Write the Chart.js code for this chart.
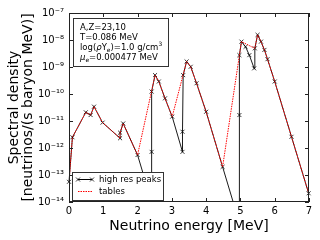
<!DOCTYPE html>
<html><head><meta charset="utf-8">
<script src="https://cdn.jsdelivr.net/npm/chart.js@4/dist/chart.umd.min.js"></script>
<style>html,body{margin:0;padding:0;background:#fff}#c{display:block}</style>
</head><body>
<canvas id="c" width="320" height="240"></canvas>
<script>
// ---- data ----
const peaksEnergy  = [0.00, 0.10, 0.49, 0.63, 0.73, 0.98, 1.49, 1.49, 1.58, 2.00, 2.41, 2.41, 2.41, 2.51, 2.62, 2.80, 3.01, 3.31, 3.31, 3.33, 3.43, 3.55, 3.72, 4.00, 4.48, 4.97, 4.97, 4.97, 5.03, 5.15, 5.26, 5.40, 5.42, 5.50, 5.60, 5.70, 5.79, 6.00, 6.49, 6.99];
const peaksDensity = [5.6e-14, 2.5e-12, 2.1e-11, 1.66e-11, 3.4e-11, 8.7e-12, 2.3e-12, 3.7e-12, 8.1e-12, 5.5e-13, 1.0e-14, 7.2e-13, 1.23e-10, 5.0e-10, 2.9e-10, 6.9e-11, 1.45e-11, 7.2e-13, 4.0e-12, 5.0e-10, 1.6e-9, 1.02e-9, 2.5e-10, 2.2e-11, 2.0e-13, 1.7e-15, 1.66e-11, 2.75e-9, 8.7e-9, 5.6e-9, 2.75e-9, 8.9e-10, 4.9e-9, 1.55e-8, 8.7e-9, 4.3e-9, 1.95e-9, 2.9e-10, 2.6e-12, 2.1e-14];
const tablesEnergy  = [0.00, 0.10, 0.49, 0.63, 0.73, 0.98, 1.49, 1.49, 1.58, 2.00, 2.51, 2.62, 2.80, 3.01, 3.43, 3.55, 3.72, 4.00, 4.48, 5.03, 5.42, 5.50, 5.60, 5.70, 5.79, 6.00, 6.49, 6.99];
const tablesDensity = [5.6e-14, 2.5e-12, 2.1e-11, 1.66e-11, 3.4e-11, 8.7e-12, 2.3e-12, 3.7e-12, 8.1e-12, 5.5e-13, 5.0e-10, 2.9e-10, 6.9e-11, 1.45e-11, 1.6e-9, 1.02e-9, 2.5e-10, 2.2e-11, 2.0e-13, 8.7e-9, 4.9e-9, 1.55e-8, 8.7e-9, 4.3e-9, 1.95e-9, 2.9e-10, 2.6e-12, 2.1e-14];
const xTickValues = [0, 1, 2, 3, 4, 5, 6, 7];
const xTickLabels = ['0', '1', '2', '3', '4', '5', '6', '7'];
const yTickValues = [1e-14, 1e-13, 1e-12, 1e-11, 1e-10, 1e-9, 1e-8, 1e-7];
const yTickLabels = ['10⁻¹⁴', '10⁻¹³', '10⁻¹²', '10⁻¹¹', '10⁻¹⁰', '10⁻⁹', '10⁻⁸', '10⁻⁷'];
const seriesLabels = ['high res peaks', 'tables'];
const xTitle = 'Neutrino energy [MeV]';
const yTitle = ['Spectral density', '[neutrinos/(s baryon MeV)]'];
// info box lines: [text, kind] pieces
const infoLines = [
  [['A,Z=23,10', 'n']],
  [['T=0.086 MeV', 'n']],
  [['log(', 'n'], ['ρ', 'i'], ['Y', 'n'], ['e', 'sub'], [')=1.0 g/cm', 'n'], ['3', 'sup']],
  [['μ', 'i'], ['e', 'sub'], ['=0.000477 MeV', 'n']]
];

const FONT = 'DejaVu Sans';

function drawX(ctx, x, y, h) {
  ctx.beginPath();
  ctx.moveTo(x - h, y - h); ctx.lineTo(x + h, y + h);
  ctx.moveTo(x - h, y + h); ctx.lineTo(x + h, y - h);
  ctx.stroke();
}

const decorPlugin = {
  id: 'decor',
  afterDraw(chart) {
    const ctx = chart.ctx;
    const a = chart.chartArea;
    const xs = chart.scales.x, ys = chart.scales.y;
    ctx.save();
    // frame
    ctx.strokeStyle = '#222';
    ctx.lineWidth = 1;
    ctx.strokeRect(Math.round(a.left) + 0.5, Math.round(a.top) + 0.5, Math.round(a.right - a.left) - 1, Math.round(a.bottom - a.top) - 1);
    // inward ticks
    ctx.beginPath();
    const L = 4;
    xTickValues.forEach(v => {
      const p = Math.round(xs.getPixelForValue(v)) + 0.5;
      ctx.moveTo(p, a.bottom); ctx.lineTo(p, a.bottom - L);
      ctx.moveTo(p, a.top); ctx.lineTo(p, a.top + L);
    });
    yTickValues.forEach(v => {
      const p = Math.round(ys.getPixelForValue(v)) + 0.5;
      ctx.moveTo(a.left, p); ctx.lineTo(a.left + L, p);
      ctx.moveTo(a.right, p); ctx.lineTo(a.right - L, p);
    });
    ctx.stroke();

    // info box
    ctx.fillStyle = '#fff';
    ctx.strokeStyle = '#333';
    ctx.fillRect(73.5, 18.5, 95, 48);
    ctx.strokeRect(73.5, 18.5, 95, 48);
    ctx.fillStyle = '#000';
    ctx.textBaseline = 'alphabetic';
    const fs = 8.5;
    infoLines.forEach((line, i) => {
      let x = 80;
      const y = 29.5 + i * 10;
      line.forEach(([t, k]) => {
        let size = fs, dy = 0, style = '';
        if (k === 'sub') { size = fs * 0.7; dy = 2; }
        if (k === 'sup') { size = fs * 0.7; dy = -3.5; }
        if (k === 'i') { style = 'italic '; }
        ctx.font = style + size + 'px "' + FONT + '"';
        ctx.fillText(t, x, y + dy);
        x += ctx.measureText(t).width;
      });
    });

    // legend
    ctx.fillStyle = '#fff';
    ctx.strokeStyle = '#333';
    ctx.fillRect(72.5, 172.5, 91, 28);
    ctx.strokeRect(72.5, 172.5, 91, 28);
    const d0 = chart.data.datasets[0], d1 = chart.data.datasets[1];
    const y1 = 179.5, y2 = 191.5;
    ctx.strokeStyle = d0.borderColor; ctx.lineWidth = 1;
    ctx.beginPath(); ctx.moveTo(78, y1); ctx.lineTo(92, y1); ctx.stroke();
    ctx.lineWidth = 0.8;
    drawX(ctx, 78, y1, 2); drawX(ctx, 92, y1, 2);
    ctx.lineWidth = 1;
    ctx.strokeStyle = d1.borderColor;
    ctx.setLineDash(d1.borderDash);
    ctx.beginPath(); ctx.moveTo(78, y2); ctx.lineTo(92, y2); ctx.stroke();
    ctx.setLineDash([]);
    ctx.fillStyle = '#000';
    ctx.font = fs + 'px "' + FONT + '"';
    ctx.textBaseline = 'middle';
    ctx.fillText(d0.label, 99, y1);
    ctx.fillText(d1.label, 99, y2);
    ctx.restore();
  }
};

new Chart(document.getElementById('c').getContext('2d'), {
  type: 'line',
  data: {
    datasets: [
      {
        label: seriesLabels[0],
        data: peaksEnergy.map((x, i) => ({ x, y: peaksDensity[i] })),
        borderColor: '#000', borderWidth: 0.9,
        pointStyle: 'crossRot', pointRadius: 2.8, pointBorderWidth: 0.8,
        pointBorderColor: '#000', pointBackgroundColor: '#000',
        tension: 0, order: 1,
        clip: { left: 5, right: 5, top: 5, bottom: 0 }
      },
      {
        label: seriesLabels[1],
        data: tablesEnergy.map((x, i) => ({ x, y: tablesDensity[i] })),
        borderColor: '#ff0000', borderWidth: 1, borderDash: [1.5, 1],
        pointRadius: 0, tension: 0, order: 0, clip: 0
      }
    ]
  },
  options: {
    responsive: false, animation: false, devicePixelRatio: 1,
    layout: { padding: { left: 0, right: 11, top: 13, bottom: 0 } },
    plugins: { legend: { display: false }, tooltip: { enabled: false } },
    scales: {
      x: {
        type: 'linear', min: 0, max: 7,
        afterBuildTicks: s => { s.ticks = xTickValues.map(v => ({ value: v })); },
        afterFit: s => { s.height = 38; },
        ticks: { color: '#000', font: { family: FONT, size: 10 }, padding: 3, maxRotation: 0, autoSkip: false,
                 callback: v => xTickLabels[xTickValues.indexOf(v)] },
        grid: { display: false, drawTicks: false },
        border: { display: false },
        title: { display: true, text: xTitle, color: '#000', font: { family: FONT, size: 14, lineHeight: 1.0 }, padding: { top: 0, bottom: 7 } }
      },
      y: {
        type: 'logarithmic', min: 1e-14, max: 1e-7,
        afterBuildTicks: s => { s.ticks = yTickValues.map(v => ({ value: v })); },
        afterFit: s => { s.width = 69; },
        ticks: { color: '#000', font: { family: FONT, size: 10 }, padding: 5, autoSkip: false,
                 callback: v => {
                   const i = yTickValues.findIndex(t => Math.abs(Math.log10(t) - Math.log10(v)) < 1e-6);
                   return i >= 0 ? yTickLabels[i] : '';
                 } },
        grid: { display: false, drawTicks: false },
        border: { display: false },
        title: { display: true, text: yTitle, color: '#000', font: { family: FONT, size: 14, lineHeight: 1.0 }, padding: { top: 7, bottom: 0 } }
      }
    }
  },
  plugins: [decorPlugin]
});
</script>
</body></html>
